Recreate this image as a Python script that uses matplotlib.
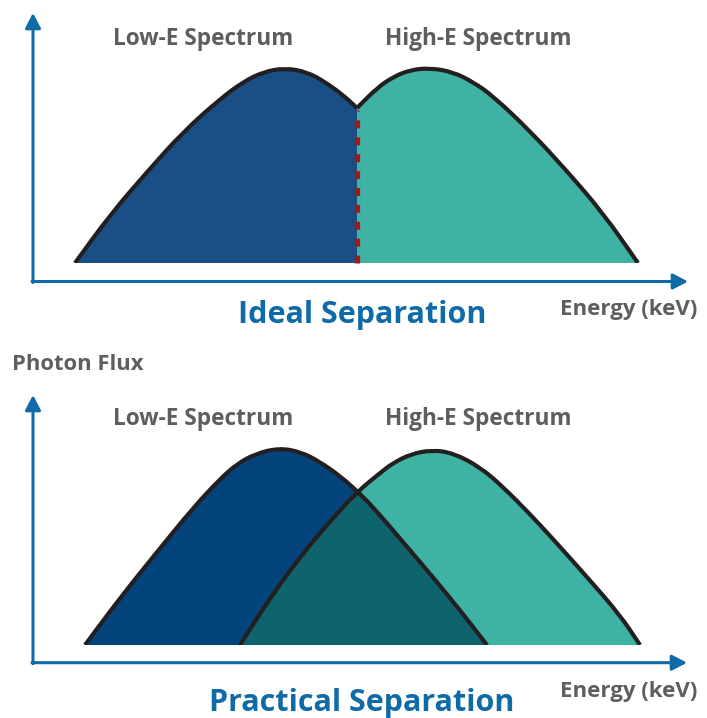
import matplotlib
matplotlib.use("Agg")
import matplotlib.pyplot as plt
from matplotlib.patches import PathPatch, Rectangle
from matplotlib.path import Path

plt.rcParams['font.family'] = ['Open Sans', 'DejaVu Sans']

# ---------------- data (energy, photon flux; arbitrary schematic units) -------------
# Ideal separation panel
ideal_low_E = [42, 77, 114, 150, 187, 210, 230, 252, 274, 292, 310, 324]
ideal_low_F = [0, 48, 91, 131, 164, 181, 191, 195, 191, 181, 168, 155]
ideal_high_E = [324, 344, 360, 377, 397, 420, 440, 460, 497, 533, 570, 605]
ideal_high_F = [155, 175, 186, 193, 195, 191, 181, 167, 132, 93, 50, 0]
ideal_cut_E = 324
ideal_cut_F = 155

# Practical separation panel
prac_low_E = [52, 87, 124, 160, 187, 204, 222, 246, 268, 287, 307, 324, 340, 370, 404, 430, 454]
prac_low_F = [0, 47, 93, 137, 166, 181, 191, 197, 193, 183, 169, 154, 138, 103, 63, 31, 0]
prac_high_E = [207, 237, 270, 300, 324, 347, 360, 378, 399, 420, 447, 470, 494, 520, 554, 587, 607]
prac_high_F = [0, 47, 92, 127, 153, 172, 182, 191, 195, 192, 178, 158, 134, 106, 68, 30, 0]

series_labels = ["Low-E Spectrum", "High-E Spectrum"]
x_label = "Energy (keV)"
y_label = "Photon Flux"
panel_titles = ["Ideal Separation", "Practical Separation"]

# ---------------- styles ----------------
AXIS_BLUE = "#0E6BA8"
GRAY = "#5E5E5E"
OUTLINE = "#231F20"
LOW_TOP = "#1A4F86"
LOW_BOT = "#03447C"
HIGH = "#3FB3A3"
OVERLAP = "#0E636C"
RED = "#9E1B1B"

W, H = 707, 718
fig = plt.figure(figsize=(W / 100, H / 100), dpi=100)

ax_top = fig.add_axes([0, 0.5, 1, 0.5])
ax_top.set_xlim(-33, W - 33)
ax_top.set_ylim(263 - 359, 263)
ax_bot = fig.add_axes([0, 0, 1, 0.5])
ax_bot.set_xlim(-33, W - 33)
ax_bot.set_ylim(645 - 718, 645 - 359)
for ax in (ax_top, ax_bot):
    ax.set_axis_off()


def curve_path(xs, ys, closed=False):
    """Smooth path through the read points (quadratic Bezier via midpoints)."""
    pts = list(zip(xs, ys))
    mids = [((pts[i][0] + pts[i + 1][0]) / 2, (pts[i][1] + pts[i + 1][1]) / 2)
            for i in range(len(pts) - 1)]
    verts = [pts[0], mids[0]]
    codes = [Path.MOVETO, Path.LINETO]
    for i in range(1, len(pts) - 1):
        verts += [pts[i], mids[i]]
        codes += [Path.CURVE3, Path.CURVE3]
    verts.append(pts[-1])
    codes.append(Path.LINETO)
    if closed:
        verts += [(xs[-1], 0), (xs[0], 0), (xs[0], 0)]
        codes += [Path.LINETO, Path.LINETO, Path.CLOSEPOLY]
    return Path(verts, codes)


def fill(ax, xs, ys, color, z=2):
    p = PathPatch(curve_path(xs, ys, closed=True), facecolor=color,
                  edgecolor='none', lw=0, zorder=z)
    ax.add_patch(p)
    return p


def outline(ax, xs, ys, z=5):
    p = PathPatch(curve_path(xs, ys), facecolor='none', edgecolor=OUTLINE,
                  lw=3.0, joinstyle='round', capstyle='butt', zorder=z)
    ax.add_patch(p)
    p.set_clip_path(Rectangle((-100, 0), 1000, 1000, transform=ax.transData))


def draw_axes_arrows(ax, x0, y0, xtip, ytip):
    kw = dict(arrowstyle='-|>,head_length=0.9,head_width=0.47', mutation_scale=10,
              lw=2.2, color=AXIS_BLUE, shrinkA=0, shrinkB=0)
    ax.annotate('', xy=(xtip, y0), xytext=(x0 - 1, y0), arrowprops=kw)
    ax.annotate('', xy=(x0, ytip), xytext=(x0, y0 - 1), arrowprops=kw)


def labels(ax, y_series, y_title, title):
    ax.text(170, y_series, series_labels[0], ha='center', va='center', fontsize=16.3,
            fontweight='bold', color=GRAY)
    ax.text(445, y_series, series_labels[1], ha='center', va='center', fontsize=16.3,
            fontweight='bold', color=GRAY)
    ax.text(329, y_title, title, ha='center', va='center', fontsize=22,
            fontweight='bold', color=AXIS_BLUE)
    ax.text(664, -47, x_label, ha='right', va='center', fontsize=16,
            fontweight='bold', color=GRAY)


# ---------------- top panel ----------------
ax = ax_top
fill(ax, ideal_low_E, ideal_low_F, LOW_TOP)
fill(ax, ideal_high_E, ideal_high_F, HIGH)
ax.plot([ideal_cut_E, ideal_cut_E], [0, ideal_cut_F - 2], color=RED, lw=3.8,
        dashes=(1.5, 1.7), solid_capstyle='butt', dash_capstyle='butt', zorder=4)
outline(ax, ideal_low_E, ideal_low_F)
outline(ax, ideal_high_E, ideal_high_F)
draw_axes_arrows(ax, 0, -18.5, 655, 250)
labels(ax, 224, -52, panel_titles[0])

# ---------------- bottom panel ----------------
ax = ax_bot
fill(ax, prac_low_E, prac_low_F, LOW_BOT)
high_patch = fill(ax, prac_high_E, prac_high_F, HIGH)
ov = fill(ax, prac_low_E, prac_low_F, OVERLAP, z=3)
ov.set_clip_path(high_patch)
outline(ax, prac_low_E, prac_low_F)
outline(ax, prac_high_E, prac_high_F)
draw_axes_arrows(ax, 0, -17.7, 654, 250)
labels(ax, 226, -58.5, panel_titles[1])

fig.text(12 / W, 1 - 364 / H, y_label, ha='left', va='center', fontsize=15.8,
         fontweight='bold', color=GRAY)

fig.savefig("out.png", dpi=100)
